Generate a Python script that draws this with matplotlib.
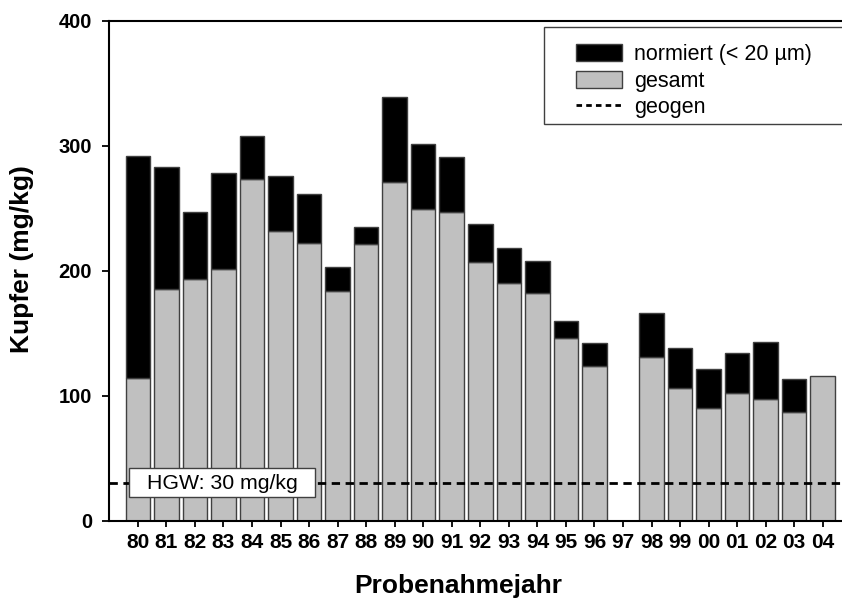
import matplotlib
matplotlib.use("Agg")
import matplotlib.pyplot as plt
from matplotlib.patches import Rectangle
from matplotlib.lines import Line2D
import numpy as np

COLOR_GESAMT = "#c0c0c0"
COLOR_NORMIERT = "#000000"
COLOR_EDGE = "#404040"

plt.rcParams["font.family"] = ["Liberation Sans", "DejaVu Sans"]

# Probenahmejahr, Kupfer in mg/kg (97: keine Probe)
jahre = ["80", "81", "82", "83", "84", "85", "86", "87", "88", "89", "90", "91",
         "92", "93", "94", "95", "96", "97", "98", "99", "00", "01", "02", "03", "04"]
gesamt = [114, 185, 193, 201, 273, 232, 222, 184, 221, 271, 249, 247,
          207, 190, 182, 146, 124, np.nan, 131, 106, 90, 102, 97, 87, 116]
normiert = [292, 283, 247, 278, 308, 276, 261, 203, 235, 339, 301, 291,
            237, 218, 208, 160, 142, np.nan, 166, 138, 121, 134, 143, 113, np.nan]
geogen = 30
y_ticks = [0, 100, 200, 300, 400]

W, H = 842, 604
fig = plt.figure(figsize=(W / 100, H / 100), dpi=100)
# right end of the axes lies outside the picture, as in the reference
ax = fig.add_axes([109.3 / W, 1 - 520.7 / H, (851.3 - 109.3) / W, 500 / H])

x = np.arange(len(jahre))
g = np.array(gesamt, dtype=float)
n = np.array(normiert, dtype=float)
bw = 0.86

ax.bar(x, g, bw, color=COLOR_GESAMT, edgecolor=COLOR_EDGE, linewidth=1.0, zorder=2)
ax.bar(x, n - g, bw, bottom=g, color=COLOR_NORMIERT, edgecolor=COLOR_EDGE,
       linewidth=1.0, zorder=2)

ax.axhline(geogen, color="black", linewidth=2.0, dashes=(3, 2), zorder=3)

# HGW label box on the dashed line
ax.add_patch(Rectangle((-0.294, 18.7), 6.5, 23.2, facecolor="white",
                       edgecolor="#404040", linewidth=1.0, zorder=4))
ax.text(2.96, geogen, "HGW: 30 mg/kg", ha="center", va="center",
        fontsize=15.3, zorder=5)

ax.set_xlim(-1, 25)
ax.set_ylim(0, 400)
ax.set_xticks(x, jahre)
ax.set_yticks(y_ticks)
ax.tick_params(axis="x", direction="out", length=4.5, width=1.3, pad=4,
               labelsize=15)
ax.tick_params(axis="y", direction="out", length=5, width=1.3, pad=7.5,
               labelsize=14.5)
for lbl in ax.get_xticklabels() + ax.get_yticklabels():
    lbl.set_fontweight("bold")

for s in ["left", "bottom", "top"]:
    ax.spines[s].set_linewidth(1.5)
ax.spines["right"].set_visible(False)

ax.set_ylabel("Kupfer (mg/kg)", fontsize=19, fontweight="bold")
ax.yaxis.set_label_coords(-0.101, 0.523)
ax.set_xlabel("Probenahmejahr", fontsize=19, fontweight="bold", va="top")
ax.xaxis.set_label_coords(0.47, -0.106)

# legend box
fig.patches.append(Rectangle((544.3 / W, 1 - 124 / H), (W + 10 - 544.3) / W,
                             (124 - 27.3) / H, transform=fig.transFigure,
                             facecolor="white", edgecolor="#404040",
                             linewidth=1.0, zorder=5))
handles = [
    Rectangle((0, 0), 1, 1, facecolor=COLOR_NORMIERT, edgecolor=COLOR_EDGE, linewidth=1.0),
    Rectangle((0, 0), 1, 1, facecolor=COLOR_GESAMT, edgecolor=COLOR_EDGE, linewidth=1.0),
    Line2D([], [], color="black", linewidth=2.0, dashes=(2, 1.5)),
]
leg = fig.legend(handles, ["normiert (< 20 µm)", "gesamt", "geogen"],
                 loc="upper left", bbox_to_anchor=(565 / W, 1 - 33 / H),
                 frameon=False, fontsize=15.5, borderpad=0, handlelength=2.15,
                 handleheight=0.83, handletextpad=0.55, labelspacing=0.27)
leg.set_zorder(6)

fig.savefig("out.png", dpi=100)
